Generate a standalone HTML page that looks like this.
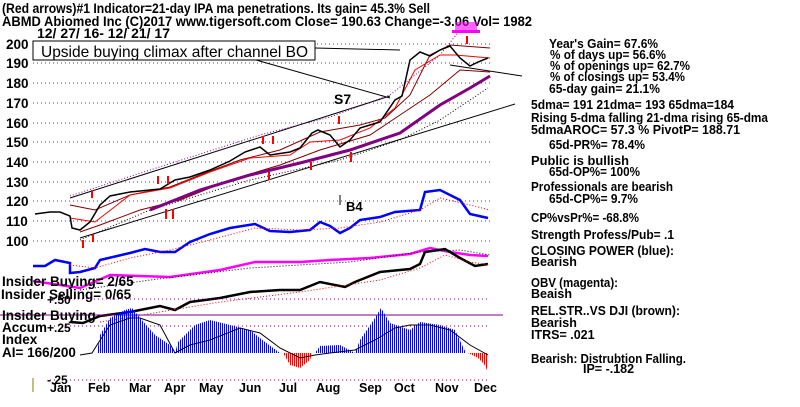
<!DOCTYPE html>
<html><head><meta charset="utf-8"><style>
html,body{margin:0;padding:0;background:#fff;}
svg text{font-family:"Liberation Sans",sans-serif;font-weight:bold;fill:#000;}
</style></head><body>
<svg width="800" height="402" viewBox="0 0 800 402" xmlns="http://www.w3.org/2000/svg">
<defs>
<pattern id="pb" width="2" height="400" patternUnits="userSpaceOnUse"><rect x="0" y="0" width="1" height="400" fill="#0000ff"/></pattern>
<pattern id="pr" width="2" height="400" patternUnits="userSpaceOnUse"><rect x="0" y="0" width="1" height="400" fill="#ff0000"/></pattern>
</defs>
<rect width="800" height="402" fill="#fff"/>
<text x="2" y="13" font-size="13.5" textLength="428" lengthAdjust="spacingAndGlyphs">(Red arrows)#1 Indicator=21-day IPA ma penetrations. Its gain= 45.3% Sell</text>
<text x="2" y="26" font-size="13.5" textLength="530" lengthAdjust="spacingAndGlyphs">ABMD  Abiomed Inc  (C)2017 www.tigersoft.com    Close=  190.63  Change=-3.06 Vol= 1982</text>
<text x="37" y="38" font-size="13.5" textLength="133" lengthAdjust="spacingAndGlyphs">12/ 27/ 16- 12/ 21/ 17</text>
<g stroke="#008000" stroke-width="1" stroke-dasharray="1,3">
<line x1="33" y1="44" x2="490" y2="44"/><line x1="33" y1="63" x2="490" y2="63"/><line x1="33" y1="83" x2="490" y2="83"/><line x1="33" y1="103" x2="490" y2="103"/><line x1="33" y1="123" x2="490" y2="123"/><line x1="33" y1="142" x2="490" y2="142"/><line x1="33" y1="162" x2="490" y2="162"/><line x1="33" y1="182" x2="490" y2="182"/><line x1="33" y1="201" x2="490" y2="201"/><line x1="33" y1="221" x2="490" y2="221"/><line x1="33" y1="241" x2="490" y2="241"/>
</g>
<g font-size="13.5">
<text x="6" y="49">200</text><text x="6" y="68">190</text><text x="6" y="88">180</text><text x="6" y="108">170</text><text x="6" y="128">160</text><text x="6" y="147">150</text><text x="6" y="167">140</text><text x="6" y="187">130</text><text x="6" y="206">120</text><text x="6" y="226">110</text><text x="6" y="246">100</text>
</g>
<rect x="33" y="41" width="282" height="19" fill="#fff" stroke="#000"/>
<text x="41" y="57" font-size="16" textLength="267" lengthAdjust="spacingAndGlyphs" style="font-weight:normal">Upside buying climax after channel BO</text>
<line x1="315" y1="48" x2="400" y2="50" stroke="#000"/>
<line x1="256" y1="60" x2="390" y2="98" stroke="#000"/>
<line x1="450" y1="65" x2="522" y2="76" stroke="#000"/>
<line x1="70" y1="198" x2="390" y2="96" stroke="#000"/>
<line x1="80" y1="238" x2="515" y2="104" stroke="#000"/>
<polyline fill="none" stroke="#800080" stroke-dasharray="1,2" points="70,196 150,170 260,135 330,117 390,95 440,55 460,30"/>
<polyline fill="none" stroke="#000" stroke-dasharray="1,2" points="80,240 150,210 250,180 340,160 400,140 440,120 488,88"/>
<polyline fill="none" stroke="#800000" stroke-width="1" points="70,205 95,210 130,195 170,187 200,175 240,160 280,150 320,132 360,125 385,118 410,95 430,55 450,45 490,48"/>
<polyline fill="none" stroke="#800000" stroke-width="1" points="80,232 100,225 140,210 180,200 230,180 280,165 320,150 370,135 400,115 430,95 460,70 490,72"/>
<polyline fill="none" stroke="#ff0000" stroke-width="1" points="70,218 95,222 130,195 170,188 210,172 250,158 290,155 310,142 340,140 370,128 395,108 415,70 440,55 455,55 490,58"/>
<polyline fill="none" stroke="#800080" stroke-width="3" points="150,210 200,190 250,175 300,163 350,150 400,133 440,105 470,88 490,76"/>
<polyline fill="none" stroke="#000" stroke-width="1.5" points="35,214 50,212 60,212 70,216 72,228 80,230 90,222 100,205 110,196 130,192 150,190 160,189 175,180 190,177 210,170 230,161 245,152 260,147 270,155 290,152 300,148 312,133 318,130 330,135 340,147 350,140 360,128 370,125 380,122 395,100 402,96 410,60 420,52 430,56 440,50 450,46 460,58 470,66 478,62 488,58"/>
<g fill="#ff0000">
<rect x="91" y="190" width="2" height="8"/><rect x="157" y="176" width="2" height="8"/><rect x="167" y="176" width="2" height="8"/><rect x="262" y="136" width="2" height="8"/><rect x="272" y="136" width="2" height="8"/><rect x="338" y="116" width="2" height="8"/><rect x="466" y="36" width="2" height="8"/>
<rect x="82" y="240" width="2" height="8"/><rect x="92" y="234" width="2" height="8"/><rect x="165" y="209" width="2" height="10"/><rect x="172" y="209" width="2" height="10"/><rect x="268" y="172" width="2" height="8"/><rect x="310" y="162" width="2" height="8"/><rect x="350" y="152" width="2" height="10"/>
</g>
<g fill="#ff00ff"><rect x="452" y="30" width="28" height="3"/><rect x="455" y="22" width="22" height="8" opacity=".6"/></g>
<text x="334" y="104" font-size="14">S7</text>
<text x="346" y="211" font-size="13">B4</text>
<line x1="340" y1="195" x2="340" y2="205" stroke="#000"/>
<polyline fill="none" stroke="#0000ff" stroke-width="2.5" points="33,266 45,266 55,260 70,263 70,273 80,272 95,268 100,260 130,253 145,249 160,252 175,252 190,242 210,234 230,228 255,224 270,231 290,232 310,230 320,222 330,226 340,233 350,228 360,220 380,217 395,212 420,210 425,192 440,190 460,200 470,214 488,218"/>
<polyline fill="none" stroke="#ff0000" stroke-dasharray="1,2" points="70,265 95,268 130,258 170,250 210,240 255,228 300,230 340,228 380,222 420,210 440,198 470,205 490,210"/>
<polyline fill="none" stroke="#ff00ff" stroke-width="2.5" points="33,281 60,285 80,288 110,275 170,277 220,270 255,262 300,262 330,260 370,258 410,254 430,248 450,252 470,255 488,256"/>
<polyline fill="none" stroke="#000" stroke-dasharray="1,2" points="80,290 150,280 250,268 350,262 420,252 460,250 490,255"/>
<polyline fill="none" stroke="#000" stroke-width="2.5" points="70,322 83,323 100,316 130,312 160,306 175,310 190,302 220,298 250,292 280,290 300,290 320,282 345,287 355,282 380,272 410,269 420,264 425,252 445,249 460,258 475,266 488,264"/>
<polyline fill="none" stroke="#ff0000" stroke-dasharray="1,2" points="100,322 160,312 220,302 300,292 380,280 420,268 445,255 470,262 490,265"/>
<g stroke="#800080" stroke-dasharray="1,3"><line x1="50" y1="299" x2="490" y2="299"/><line x1="50" y1="326" x2="490" y2="326"/><line x1="50" y1="380" x2="490" y2="380"/></g>
<line x1="0" y1="315" x2="503" y2="315" stroke="#800080"/>
<polygon fill="url(#pb)" points="97,353 100,335 110,318 125,310 132,308 140,318 155,335 170,345 175,353 178,342 195,325 210,320 230,325 250,330 265,342 280,353"/>
<polygon fill="url(#pr)" points="283,353 290,365 300,368 310,360 312,353"/>
<polygon fill="url(#pb)" points="315,353 320,346 340,345 355,353 360,340 375,318 381,308 390,323 410,330 420,322 440,325 455,330 462,345 466,353"/>
<polygon fill="url(#pr)" points="468,353 478,358 484,364 488,372 488,353"/>
<polyline fill="none" stroke="#000" points="80,355 92,353 97,345 110,325 130,318 140,318 160,325 175,353 190,345 210,340 240,328 260,333 280,348 300,358 315,355 330,353 355,350 375,340 395,328 410,325 430,325 450,330 470,345 488,355"/>
<g font-size="13.5">
<text x="2" y="286">Insider Buying= 2/65</text>
<text x="1" y="299">Insider Selling= 0/65</text>
<text x="47" y="304" font-size="12">+.50</text>
<text x="2" y="320">Insider Buying</text>
<text x="2" y="332">Accum</text><text x="47" y="332" font-size="12">+.25</text>
<text x="2" y="344">Index</text>
<text x="2" y="357">AI= 166/200</text>
<text x="47" y="384" font-size="12">-.25</text>
</g>
<line x1="33" y1="378" x2="33" y2="392" stroke="#808000"/>
<g font-size="12.5">
<text x="50" y="392">Jan</text><text x="88" y="392">Feb</text><text x="129" y="392">Mar</text><text x="164" y="392">Apr</text><text x="199" y="392">May</text><text x="239" y="392">Jun</text><text x="279" y="392">Jul</text><text x="316" y="392">Aug</text><text x="359" y="392">Sep</text><text x="394" y="392">Oct</text><text x="435" y="392">Nov</text><text x="474" y="392">Dec</text>
</g>
<g font-size="12.5">
<text x="549" y="48" textLength="109" lengthAdjust="spacingAndGlyphs">Year's Gain= 67.6%</text>
<text x="550" y="59" textLength="116" lengthAdjust="spacingAndGlyphs">% of days up= 56.6%</text>
<text x="550" y="70" textLength="140" lengthAdjust="spacingAndGlyphs">% of openings up= 62.7%</text>
<text x="550" y="81" textLength="135" lengthAdjust="spacingAndGlyphs">% of closings up= 53.4%</text>
<text x="549" y="93" textLength="111" lengthAdjust="spacingAndGlyphs">65-day gain= 21.1%</text>
<text x="531" y="109" textLength="203" lengthAdjust="spacingAndGlyphs">5dma= 191 21dma= 193 65dma=184</text>
<text x="531" y="122" textLength="237" lengthAdjust="spacingAndGlyphs">Rising 5-dma falling 21-dma rising 65-dma</text>
<text x="531" y="134" textLength="209" lengthAdjust="spacingAndGlyphs">5dmaAROC= 57.3 %  PivotP= 188.71</text>
<text x="549" y="149" textLength="96" lengthAdjust="spacingAndGlyphs">65d-PR%= 78.4%</text>
<text x="531" y="165" textLength="98" lengthAdjust="spacingAndGlyphs">Public is bullish</text>
<text x="549" y="176" textLength="91" lengthAdjust="spacingAndGlyphs">65d-OP%= 100%</text>
<text x="531" y="191" textLength="142" lengthAdjust="spacingAndGlyphs">Professionals are bearish</text>
<text x="549" y="203" textLength="89" lengthAdjust="spacingAndGlyphs">65d-CP%= 9.7%</text>
<text x="531" y="222" textLength="108" lengthAdjust="spacingAndGlyphs">CP%vsPr%= -68.8%</text>
<text x="531" y="239" textLength="143" lengthAdjust="spacingAndGlyphs">Strength Profess/Pub= .1</text>
<text x="531" y="255" textLength="143" lengthAdjust="spacingAndGlyphs">CLOSING POWER (blue):</text>
<text x="531" y="266">Bearish</text>
<text x="531" y="287" textLength="87" lengthAdjust="spacingAndGlyphs">OBV (magenta):</text>
<text x="531" y="298">Beaish</text>
<text x="531" y="315" textLength="149" lengthAdjust="spacingAndGlyphs">REL.STR..VS DJI (brown):</text>
<text x="531" y="327">Bearish</text>
<text x="531" y="339">ITRS= .021</text>
<text x="531" y="363" textLength="155" lengthAdjust="spacingAndGlyphs">Bearish: Distrubtion Falling.</text>
<text x="583" y="373">IP= -.182</text>
</g>
</svg>
</body></html>
